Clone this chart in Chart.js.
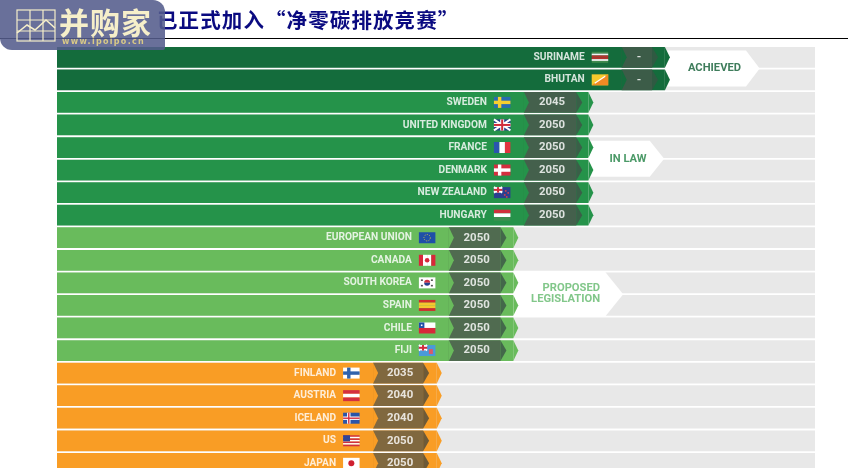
<!DOCTYPE html>
<html>
<head>
<meta charset="utf-8">
<script src="https://cdn.jsdelivr.net/npm/chart.js@4/dist/chart.umd.min.js"></script>
<style>
  html, body { margin: 0; padding: 0; background: #fff; overflow: hidden; }
  #wrap { position: relative; width: 864px; height: 468px; overflow: hidden; }
  #myChart { position: absolute; left: 0; top: 0; filter: blur(0.4px); }
  #title { position: absolute; left: 157px; top: 4px; font: 700 20.5px "Noto Sans CJK SC"; color: #0a0a80; letter-spacing: 1.1px; white-space: nowrap; }
  #rule { position: absolute; left: 0; top: 38px; width: 848px; height: 1px; background: #000; }
  #logo { position: absolute; left: 0; top: 0; width: 165px; height: 50px; background: rgba(84,92,140,.88); border-radius: 0 12px 2px 12px; }
  #logo svg { position: absolute; left: 16px; top: 9px; }
  #logoName { position: absolute; left: 59px; top: 2px; font: 700 30px/38px "Noto Sans CJK SC"; color: #f6efca; letter-spacing: 1px; white-space: nowrap; }
  #logoUrl { position: absolute; left: 62px; top: 36px; font: 700 8px/12px "DejaVu Sans"; color: #d8c987; letter-spacing: 1.3px; white-space: nowrap; }
</style>
</head>
<body>
<div id="wrap">
  <canvas id="myChart" width="864" height="480"></canvas>
  <div id="title">已正式加入“净零碳排放竞赛”</div>
  <div id="rule"></div>
  <div id="logo">
    <svg width="40" height="33" viewBox="0 0 40 33" fill="none" stroke="#f6efca" stroke-width="1.2">
      <rect x="1" y="1" width="38" height="31"/>
      <path d="M14 1V32M27 1V32M1 11H39M1 22H39"/>
      <path d="M1 24L11 16L19 21L30 11L39 19" stroke-width="1.6"/>
    </svg>
    <div id="logoName">并购家</div>
    <div id="logoUrl">www.ipoipo.cn</div>
  </div>
</div>
<script>
const countries = ["SURINAME","BHUTAN","SWEDEN","UNITED KINGDOM","FRANCE","DENMARK","NEW ZEALAND","HUNGARY","EUROPEAN UNION","CANADA","SOUTH KOREA","SPAIN","CHILE","FIJI","FINLAND","AUSTRIA","ICELAND","US","JAPAN"]
const yearLabels = ["-","-","2045","2050","2050","2050","2050","2050","2050","2050","2050","2050","2050","2050","2035","2040","2040","2050","2050"]
const statusGroup = [0,0,1,1,1,1,1,1,2,2,2,2,2,2,3,3,3,3,3]

// bar lengths as percent of the grey track
const trackEnd = [100,100,100,100,100,100,100,100,100,100,100,100,100,100,100,100,100,100,100]
const barEnd = [80.2,80.2,70.1,70.1,70.1,70.1,70.1,70.1,60.2,60.2,60.2,60.2,60.2,60.2,50.1,50.1,50.1,50.1,50.1]
const yearStart = [74.5,74.5,61.6,61.6,61.6,61.6,61.6,61.6,51.7,51.7,51.7,51.7,51.7,51.7,41.7,41.7,41.7,41.7,41.7]
const yearEnd = [78.5,78.5,68.5,68.5,68.5,68.5,68.5,68.5,58.5,58.5,58.5,58.5,58.5,58.5,48.3,48.3,48.3,48.3,48.3]

const barColors = ["#146c3c","#25934a","#69bb5c","#f99d25"]
const yearColors = ["#3c5c48","#44604c","#506b50","#80683f"]
const chevronColors = ["#2f5a42","#3a5f48","#43684a","#6d5a38"]

const ribbonText = [["ACHIEVED"],["IN LAW"],["PROPOSED","LEGISLATION"]]
const ribbonFirstRow = [0,4,10]
const ribbonLastRow = [1,5,11]
const ribbonBodyEnd = [90.9,78.2,72.3]
const ribbonTipEnd = [92.7,80.1,74.7]
const ribbonTextColors = ["#3f7d5c","#4c9a68","#82c78a"]

const TEXT_FONT = '700 10.2px Roboto'
const YEAR_FONT = '700 11.4px Roboto'
const RIBBON_FONT = '700 11.2px Roboto'

function stripesH(c, x, y, w, h, cols) {
  cols.forEach((col, i) => { c.fillStyle = col; c.fillRect(x, y + h * i / cols.length, w, h / cols.length) })
}
function stripesV(c, x, y, w, h, cols) {
  cols.forEach((col, i) => { c.fillStyle = col; c.fillRect(x + w * i / cols.length, y, w / cols.length, h) })
}
function nordic(c, x, y, w, h, bg, cross, inner) {
  c.fillStyle = bg; c.fillRect(x, y, w, h)
  c.fillStyle = cross; c.fillRect(x + 4, y, 3.4, h); c.fillRect(x, y + h / 2 - 1.7, w, 3.4)
  if (inner) { c.fillStyle = inner; c.fillRect(x + 5, y, 1.4, h); c.fillRect(x, y + h / 2 - 0.7, w, 1.4) }
}
function unionJack(c, x, y, w, h) {
  c.fillStyle = "#2a3f8f"; c.fillRect(x, y, w, h)
  c.strokeStyle = "#fff"; c.lineWidth = 2
  c.beginPath(); c.moveTo(x, y); c.lineTo(x + w, y + h); c.moveTo(x + w, y); c.lineTo(x, y + h); c.stroke()
  c.fillStyle = "#fff"; c.fillRect(x + w / 2 - 2, y, 4, h); c.fillRect(x, y + h / 2 - 2, w, 4)
  c.fillStyle = "#d02c3c"; c.fillRect(x + w / 2 - 1, y, 2, h); c.fillRect(x, y + h / 2 - 1, w, 2)
}
const flags = {
  "SURINAME": (c, x, y, w, h) => stripesH(c, x, y, w, h, ["#3f8a4e","#f2f2f2","#b8322e","#b8322e","#f2f2f2","#3f8a4e"]),
  "BHUTAN": (c, x, y, w, h) => {
    c.fillStyle = "#f6c92c"; c.fillRect(x, y, w, h)
    c.fillStyle = "#f08a24"; c.beginPath(); c.moveTo(x + w, y); c.lineTo(x + w, y + h); c.lineTo(x, y + h); c.fill()
    c.strokeStyle = "#fff"; c.lineWidth = 1.2; c.beginPath(); c.moveTo(x + 3, y + h - 2); c.lineTo(x + w - 3, y + 2); c.stroke()
  },
  "SWEDEN": (c, x, y, w, h) => nordic(c, x, y, w, h, "#2a6cb0", "#f6cf2f"),
  "UNITED KINGDOM": unionJack,
  "FRANCE": (c, x, y, w, h) => stripesV(c, x, y, w, h, ["#2a55b0","#fff","#e2343f"]),
  "DENMARK": (c, x, y, w, h) => nordic(c, x, y, w, h, "#d42f3f", "#fff"),
  "NEW ZEALAND": (c, x, y, w, h) => {
    c.fillStyle = "#2a3f8f"; c.fillRect(x, y, w, h)
    unionJack(c, x, y, w / 2, h / 2)
    c.fillStyle = "#d8404a"; [[11,3],[13.5,5],[10,7],[12,9]].forEach(p => c.fillRect(x + p[0], y + p[1], 1.6, 1.6))
  },
  "HUNGARY": (c, x, y, w, h) => stripesH(c, x, y, w, h, ["#d0303c","#fff","#3e8f50"]),
  "EUROPEAN UNION": (c, x, y, w, h) => {
    c.fillStyle = "#1f4fa8"; c.fillRect(x, y, w, h)
    c.strokeStyle = "#d8c840"; c.lineWidth = 1; c.setLineDash([1, 1.4])
    c.beginPath(); c.arc(x + w / 2, y + h / 2, 3.2, 0, Math.PI * 2); c.stroke(); c.setLineDash([])
  },
  "CANADA": (c, x, y, w, h) => {
    stripesV(c, x, y, w, h, ["#d8283a","#fff","#fff","#d8283a"])
    c.fillStyle = "#d8283a"; c.beginPath(); c.arc(x + w / 2, y + h / 2, 2.3, 0, Math.PI * 2); c.fill()
  },
  "SOUTH KOREA": (c, x, y, w, h) => {
    c.fillStyle = "#fff"; c.fillRect(x, y, w, h)
    c.fillStyle = "#cf3040"; c.beginPath(); c.arc(x + w / 2, y + h / 2, 3, Math.PI, 0); c.fill()
    c.fillStyle = "#27408f"; c.beginPath(); c.arc(x + w / 2, y + h / 2, 3, 0, Math.PI); c.fill()
    c.fillStyle = "#555"; [[2,2],[12,2],[2,7.5],[12,7.5]].forEach(p => c.fillRect(x + p[0], y + p[1], 2, 1.6))
  },
  "SPAIN": (c, x, y, w, h) => stripesH(c, x, y, w, h, ["#cf2d2d","#f5c62e","#f5c62e","#cf2d2d"]),
  "CHILE": (c, x, y, w, h) => {
    stripesH(c, x, y, w, h, ["#fff","#d8283a"])
    c.fillStyle = "#1f4fa8"; c.fillRect(x, y, w / 3, h / 2)
    c.fillStyle = "#fff"; c.fillRect(x + 2, y + 2, 1.6, 1.6)
  },
  "FIJI": (c, x, y, w, h) => {
    c.fillStyle = "#4a9ad8"; c.fillRect(x, y, w, h)
    unionJack(c, x, y, w / 2, h / 2)
    c.fillStyle = "#d85a6a"; c.fillRect(x + 10, y + 4, 4, 5)
  },
  "FINLAND": (c, x, y, w, h) => nordic(c, x, y, w, h, "#fff", "#2f62ac"),
  "AUSTRIA": (c, x, y, w, h) => stripesH(c, x, y, w, h, ["#d42f3f","#fff","#d42f3f"]),
  "ICELAND": (c, x, y, w, h) => nordic(c, x, y, w, h, "#2a55a8", "#fff", "#d42f3f"),
  "US": (c, x, y, w, h) => {
    stripesH(c, x, y, w, h, ["#cf3040","#fff","#cf3040","#fff","#cf3040","#fff","#cf3040"])
    c.fillStyle = "#2f4596"; c.fillRect(x, y, w * 0.42, h * 0.55)
  },
  "JAPAN": (c, x, y, w, h) => {
    c.fillStyle = "#fff"; c.fillRect(x, y, w, h)
    c.fillStyle = "#cf2030"; c.beginPath(); c.arc(x + w / 2, y + h / 2, 3, 0, Math.PI * 2); c.fill()
  }
}

function triangle(c, x, top, bottom, len, col) {
  c.fillStyle = col
  c.beginPath(); c.moveTo(x, top); c.lineTo(x + len, (top + bottom) / 2); c.lineTo(x, bottom); c.closePath(); c.fill()
}

const rowMarks = {
  id: "rowMarks",
  afterDatasetsDraw(chart) {
    const c = chart.ctx, xs = chart.scales.x, ys = chart.scales.y
    const bars = chart.getDatasetMeta(1).data
    c.save()

    // white ribbons behind the arrow tips
    ribbonText.forEach((lines, i) => {
      const y1 = ys.getPixelForValue(ribbonFirstRow[i]), y2 = ys.getPixelForValue(ribbonLastRow[i])
      const mid = (y1 + y2) / 2, half = i == 2 ? 22.5 : 18
      const left = xs.getPixelForValue(barEnd[ribbonFirstRow[i]])
      const body = xs.getPixelForValue(ribbonBodyEnd[i]), tip = xs.getPixelForValue(ribbonTipEnd[i])
      c.fillStyle = "#fff"
      c.beginPath()
      c.moveTo(left, mid - half); c.lineTo(body, mid - half); c.lineTo(tip, mid)
      c.lineTo(body, mid + half); c.lineTo(left, mid + half); c.closePath(); c.fill()
      c.fillStyle = ribbonTextColors[i]
      c.font = RIBBON_FONT
      c.textBaseline = "middle"
      if (i == 2) {
        c.textAlign = "right"
        c.fillText(lines[0], body - 5, mid - 6)
        c.fillText(lines[1], body - 5, mid + 5)
      } else {
        c.textAlign = "center"
        c.fillText(lines[0], (left + body) / 2 + 9, mid)
      }
    })

    countries.forEach((name, i) => {
      const b = bars[i], g = statusGroup[i]
      const top = b.y - b.height / 2, bottom = b.y + b.height / 2
      const startX = xs.getPixelForValue(yearStart[i]), endX = xs.getPixelForValue(yearEnd[i])
      triangle(c, b.x, top, bottom, 5, barColors[g])
      triangle(c, startX, top, bottom, 5, barColors[g])
      triangle(c, endX, top, bottom, 6, chevronColors[g])

      const flagX = startX - 30
      flags[name](c, flagX, b.y - 5.5, 16.5, 11)

      c.font = TEXT_FONT
      c.textBaseline = "middle"
      c.textAlign = "right"
      c.fillStyle = "rgba(255,255,255,.82)"
      c.fillText(name, flagX - 7, b.y)
      c.font = YEAR_FONT
      c.textAlign = "center"
      c.fillText(yearLabels[i], (startX + endX) / 2 + 2, b.y)
    })
    c.restore()
  }
}

new Chart("myChart", {
  type: "bar",
  data: {
    labels: countries,
    datasets: [
      { order: 3, data: trackEnd.map(v => [0, v]), backgroundColor: "#e8e8e8" },
      { order: 2, data: barEnd.map(v => [0, v]), backgroundColor: statusGroup.map(g => barColors[g]) },
      { order: 1, data: yearStart.map((v, i) => [v, yearEnd[i]]), backgroundColor: statusGroup.map(g => yearColors[g]) }
    ]
  },
  options: {
    indexAxis: "y",
    responsive: false,
    animation: false,
    layout: { padding: { left: 57, right: 49, top: 46, bottom: 5.4 } },
    datasets: { bar: { grouped: false, categoryPercentage: 1, barPercentage: 0.92 } },
    plugins: { legend: { display: false }, tooltip: { enabled: false } },
    scales: {
      x: { display: false, min: 0, max: 100 },
      y: { display: false }
    }
  },
  plugins: [rowMarks]
})
</script>
</body>
</html>
